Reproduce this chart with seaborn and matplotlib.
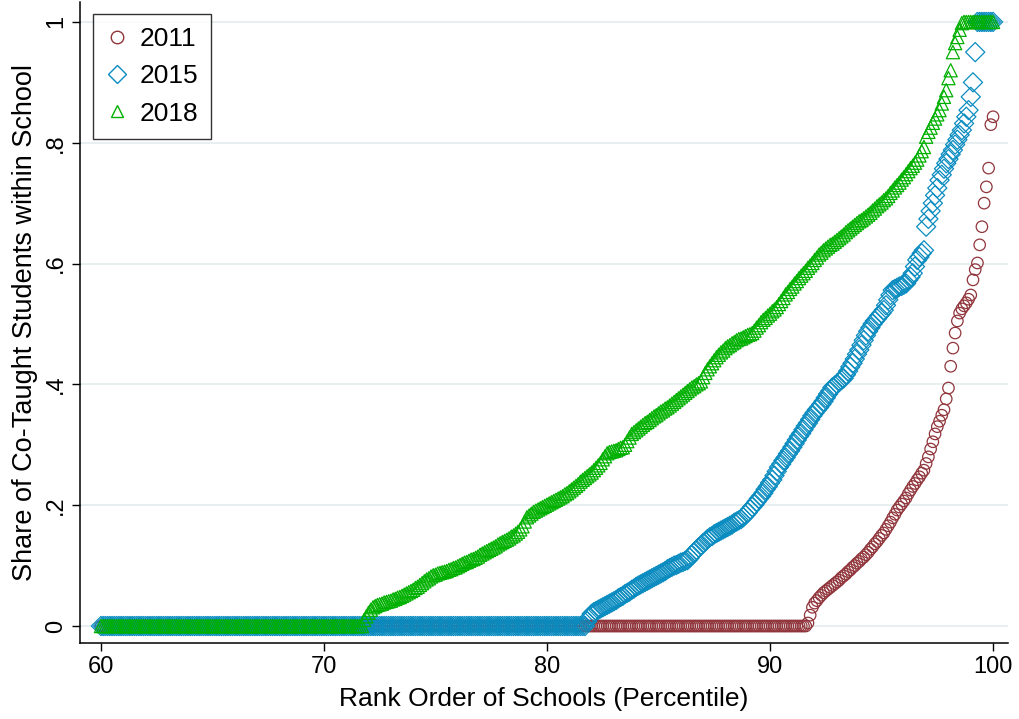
import matplotlib
matplotlib.use("Agg")
import matplotlib.pyplot as plt
from matplotlib.lines import Line2D
import seaborn as sns
import pandas as pd

# school rank percentile grid (60th to 100th percentile, one school bin per 0.1)
rank_pct = [round(60 + 0.1 * i, 1) for i in range(401)]

# share of co-taught students, one value per rank bin
share_2011 = [0.0] * 317 + [
    .005, .018, .031,
    .038, .042, .047, .051, .055, .058, .061, .064, .067, .070,
    .073, .076, .080, .083, .086, .090, .093, .097, .100, .104,
    .107, .111, .114, .118, .122, .127, .131, .136, .140, .145,
    .150, .154, .160, .166, .172, .179, .185, .192, .197, .202,
    .207, .212, .219, .225, .231, .236, .242, .247, .253, .258,
    .269, .280, .293, .305, .318, .330, .339, .349, .358, .376,
    .394, .430, .460, .485, .505, .518, .525, .530, .535, .541,
    .548, .573, .590, .601, .631, .661, .700, .727, .758, .830,
    .843,
]

share_2015 = [0.0] * 218 + [
    .008, .014,
    .020, .023, .025, .027, .029, .031, .033, .035, .037, .039,
    .041, .043, .046, .048, .050, .053, .055, .057, .060, .062,
    .065, .067, .069, .071, .073, .075, .077, .079, .081, .083,
    .085, .087, .089, .091, .094, .096, .098, .100, .101, .103,
    .105, .106, .108, .109, .113, .118, .122, .126, .130, .133,
    .137, .140, .144, .147, .149, .152, .154, .156, .158, .160,
    .162, .164, .166, .168, .171, .173, .175, .177, .180, .184,
    .188, .193, .197, .201, .206, .211, .215, .220, .226, .231,
    .237, .242, .249, .256, .263, .268, .274, .279, .285, .290,
    .296, .302, .308, .314, .319, .325, .331, .336, .342, .348,
    .353, .358, .362, .367, .372, .378, .384, .389, .395, .398,
    .401, .404, .407, .410, .416, .422, .429, .435, .442, .450,
    .457, .465, .473, .481, .488, .494, .500, .505, .509, .514,
    .518, .523, .531, .540, .548, .556, .558, .560, .562, .563,
    .565, .567, .573, .578, .584, .595, .606, .611, .617, .622,
    .661, .674, .687, .700, .713, .725, .738, .747, .757, .766,
    .773, .781, .788, .797, .805, .813, .821, .832, .843, .854,
    .876, .900, .950,
] + [1.0] * 8

share_2018 = [0.0] * 118 + [
    .010, .016,
    .022, .027, .031, .033, .035, .036, .037, .039, .040, .041,
    .042, .044, .045, .047, .048, .050, .052, .054, .056, .058,
    .060, .063, .065, .068, .071, .074, .077, .079, .082, .084,
    .085, .087, .088, .089, .090, .091, .093, .094, .096, .097,
    .099, .101, .103, .105, .106, .108, .110, .111, .113, .115,
    .118, .120, .122, .124, .126, .128, .130, .132, .135, .137,
    .139, .141, .143, .145, .148, .150, .153, .156, .160, .165,
    .173, .180, .183, .186, .189, .191, .193, .195, .197, .199,
    .201, .203, .205, .207, .209, .211, .213, .215, .218, .220,
    .223, .226, .229, .232, .235, .239, .242, .245, .248, .251,
    .254, .258, .262, .266, .270, .276, .281, .286, .288, .289,
    .290, .291, .293, .295, .296, .300, .306, .312, .318, .321,
    .324, .327, .330, .333, .336, .338, .341, .344, .347, .349,
    .352, .355, .357, .360, .362, .365, .368, .371, .374, .377,
    .380, .383, .386, .389, .392, .395, .397, .400, .402, .405,
    .412, .419, .425, .430, .435, .440, .445, .449, .453, .456,
    .460, .463, .465, .468, .470, .473, .475, .476, .478, .480,
    .482, .483, .485, .489, .494, .498, .503, .507, .510, .514,
    .517, .521, .524, .528, .533, .538, .543, .549, .553, .558,
    .562, .567, .571, .576, .580, .584, .588, .593, .597, .601,
    .606, .610, .615, .618, .622, .625, .628, .631, .633, .636,
    .639, .642, .645, .648, .652, .655, .658, .661, .664, .667,
    .670, .672, .675, .678, .681, .684, .688, .691, .695, .698,
    .701, .705, .708, .712, .717, .721, .726, .730, .734, .739,
    .743, .748, .753, .758, .762, .767, .772, .779, .786, .793,
    .810, .818, .825, .833, .840, .847, .854, .865, .876, .887,
    .907, .920, .950, .965, .975, .987, .998,
] + [1.0] * 14

years = ["2011", "2015", "2018"]
colors = {"2011": "#90353B", "2015": "#0A8CC0", "2018": "#00B000"}
markers = {"2011": "o", "2015": "D", "2018": "^"}
sizes = {"2011": 68, "2015": 95, "2018": 90}

df = pd.DataFrame({
    "rank": rank_pct * 3,
    "share": share_2011 + share_2015 + share_2018,
    "year": ["2011"] * 401 + ["2015"] * 401 + ["2018"] * 401,
})

sns.set_style("white")
plt.rcParams["font.family"] = ["Liberation Sans", "DejaVu Sans"]
plt.rcParams["text.color"] = "black"
plt.rcParams["axes.labelcolor"] = "black"

fig = plt.figure(figsize=(10.2, 7.19), dpi=100)
ax = fig.add_axes([80 / 1020, 76 / 719, 928 / 1020, 641 / 719])

for yr in years:
    sub = df[df["year"] == yr]
    sns.scatterplot(data=sub, x="rank", y="share", marker=markers[yr],
                    s=sizes[yr], ax=ax, legend=False)
    coll = ax.collections[-1]
    coll.set_facecolor("none")
    coll.set_edgecolor(colors[yr])
    coll.set_linewidth(0.9)

ax.set_xlim(59.06, 100.67)
ax.set_ylim(-0.0281, 1.033)
ax.set_xticks([60, 70, 80, 90, 100])
ax.set_yticks([0, 0.2, 0.4, 0.6, 0.8, 1.0])
ax.set_yticklabels(["0", ".2", ".4", ".6", ".8", "1"], rotation=90, va="center")
ax.yaxis.grid(True, color="#E8EFF1", linewidth=1.4, zorder=0)
ax.set_axisbelow(True)
ax.tick_params(axis="both", direction="out", length=6, width=1, colors="black",
               labelsize=17, left=True, bottom=True)
for side in ["top", "right"]:
    ax.spines[side].set_visible(False)
for side in ["left", "bottom"]:
    ax.spines[side].set_color("black")
    ax.spines[side].set_linewidth(1.1)

ax.set_xlabel("Rank Order of Schools (Percentile)", fontsize=19, labelpad=6)
ax.set_ylabel("Share of Co-Taught Students within School", fontsize=19.5, labelpad=5)

handles = [Line2D([], [], linestyle="none", marker=markers[yr], markersize=9,
                  markerfacecolor="none", markeredgecolor=colors[yr],
                  markeredgewidth=1.0) for yr in years]
leg = ax.legend(handles, years, loc="upper left", bbox_to_anchor=(93 / 1020, 1 - 14 / 719),
                bbox_transform=fig.transFigure, borderaxespad=0, fontsize=19,
                frameon=True, fancybox=False, edgecolor="black", borderpad=0.5,
                handletextpad=0.45, labelspacing=0.5, handlelength=0.8)
leg.get_frame().set_linewidth(1.0)

fig.savefig("out.png", dpi=100)
